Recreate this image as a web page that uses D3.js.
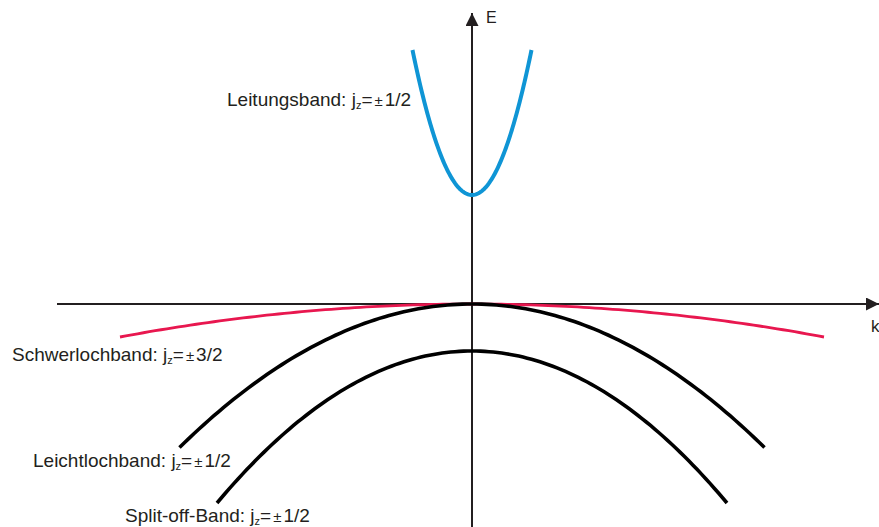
<!DOCTYPE html>
<html>
<head>
<meta charset="utf-8">
<script src="https://cdn.jsdelivr.net/npm/d3@7"></script>
<style>
  html, body { margin: 0; padding: 0; background: #fff; }
  svg { display: block; }
  text { font-family: "Liberation Sans", Arial, sans-serif; fill: #231f20; }
</style>
</head>
<body>
<svg id="chart" width="879" height="527"></svg>
<script>
// Band names, apex energy, edge energy and edge wave vector (arbitrary units)
const bandNames   = ["Leitungsband", "Schwerlochband", "Leichtlochband", "Split-off-Band"];
const bandSpin    = ["±1/2", "±3/2", "±1/2", "±1/2"];
const apexEnergy  = [1.09, 0.0, 0.0, -0.47];
const edgeEnergy  = [2.54, -0.33, -1.435, -1.99];
const edgeK       = [0.595, 3.52, 2.925, 2.55];
const bandColors  = ["#0f95d5", "#e8174f", "#000000", "#000000"];
const bandWidths  = [4, 2.8, 3.6, 3.6];

// Axis extents
const kAxis = [-4.15, 4.07];
const eAxis = [-2.25, 2.91];

const svg = d3.select("#chart");
const x = d3.scaleLinear().domain([-4, 4]).range([72, 872]);
const y = d3.scaleLinear().domain([0, 1]).range([304, 204]);

// Arrow marker
svg.append("defs").append("marker")
  .attr("id", "arrow").attr("viewBox", "0 0 10 10")
  .attr("refX", 10).attr("refY", 5)
  .attr("markerWidth", 6.5).attr("markerHeight", 6.5)
  .attr("markerUnits", "strokeWidth")
  .attr("orient", "auto")
  .append("path").attr("d", "M0,0 L10,5 L0,10 Z").attr("fill", "#231f20");

// Axes
svg.append("line")
  .attr("x1", x(kAxis[0])).attr("x2", x(kAxis[1]))
  .attr("y1", y(0)).attr("y2", y(0))
  .attr("stroke", "#231f20").attr("stroke-width", 2)
  .attr("marker-end", "url(#arrow)");
svg.append("line")
  .attr("x1", x(0)).attr("x2", x(0))
  .attr("y1", y(eAxis[0])).attr("y2", y(eAxis[1]))
  .attr("stroke", "#231f20").attr("stroke-width", 2)
  .attr("marker-end", "url(#arrow)");

svg.append("text").attr("x", 486).attr("y", 23).attr("font-size", 16).text("E");
svg.append("text").attr("x", 871).attr("y", 332).attr("font-size", 17).text("k");

// Parabolic bands E(k) = apex + (edge - apex) * (k / kEdge)^2
const line = d3.line().x(d => x(d[0])).y(d => y(d[1]));
bandNames.forEach((name, i) => {
  const pts = d3.range(-60, 61).map(j => {
    const k = edgeK[i] * j / 60;
    return [k, apexEnergy[i] + (edgeEnergy[i] - apexEnergy[i]) * (k / edgeK[i]) ** 2];
  });
  svg.append("path")
    .attr("d", line(pts))
    .attr("fill", "none")
    .attr("stroke", bandColors[i])
    .attr("stroke-width", bandWidths[i]);
});

// Band labels
const labelPos = [[227, 106], [12, 361], [33, 467], [125, 522]];
bandNames.forEach((name, i) => {
  const t = svg.append("text")
    .attr("x", labelPos[i][0]).attr("y", labelPos[i][1])
    .attr("font-size", 19);
  t.append("tspan").text(name + ": j");
  t.append("tspan").attr("font-size", 11).attr("dy", 3).text("z");
  t.append("tspan").attr("dy", -3).text("=");
  t.append("tspan").attr("font-size", 15).attr("dx", 2).text(bandSpin[i].slice(0, 1));
  t.append("tspan").attr("dx", 2).text(bandSpin[i].slice(1));
});
</script>
</body>
</html>
